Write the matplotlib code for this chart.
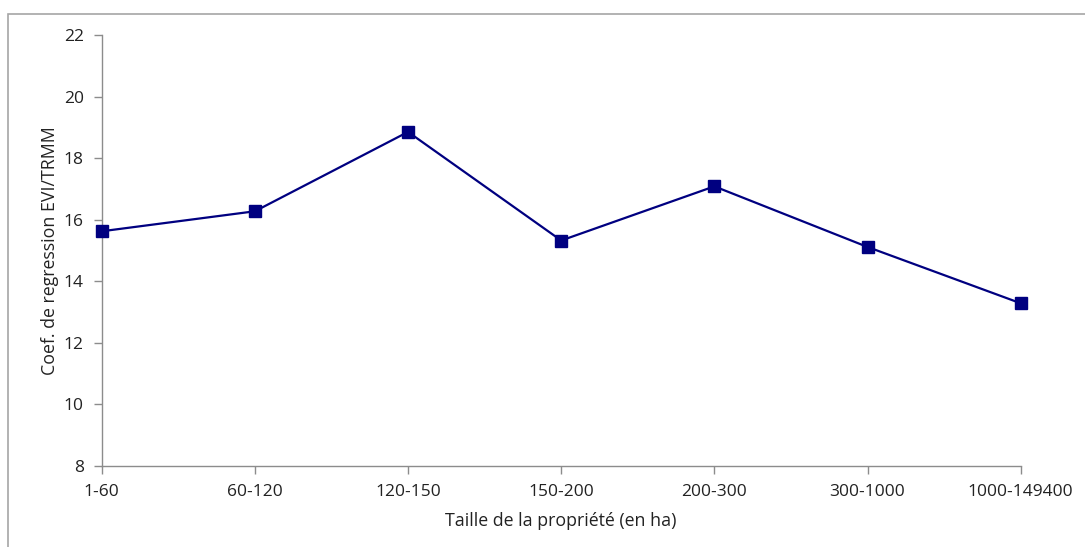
import matplotlib
matplotlib.use("Agg")
import matplotlib.pyplot as plt
from matplotlib.patches import Rectangle

categories = ["1-60", "60-120", "120-150", "150-200", "200-300", "300-1000", "1000-149400"]
values = [15.62, 16.27, 18.85, 15.32, 17.08, 15.11, 13.28]
yticks = [8, 10, 12, 14, 16, 18, 20, 22]

plt.rcParams['font.family'] = ['Open Sans', 'DejaVu Sans']

W, H = 1085, 547
fig = plt.figure(figsize=(W / 100, H / 100), dpi=100)
ax = fig.add_axes([101.7 / W, 1 - 465.7 / H, (1020.7 - 101.7) / W, (465.7 - 35) / H])

x = list(range(len(categories)))
ax.plot(x, values, color='#000080', linewidth=1.6, marker='s', markersize=9,
        markerfacecolor='#000080', markeredgecolor='#000080', clip_on=False, zorder=3)

ax.set_xlim(0, len(categories) - 1)
ax.set_ylim(8, 22)
ax.set_xticks(x)
ax.set_xticklabels(categories)
ax.set_yticks(yticks)

for s in ['top', 'right']:
    ax.spines[s].set_visible(False)
for s in ['left', 'bottom']:
    ax.spines[s].set_color('#8c8c8c')
    ax.spines[s].set_linewidth(1.0)

ax.tick_params(axis='both', colors='#8c8c8c', length=6, width=1.0, labelsize=12.5,
               labelcolor='#222222', direction='out')
ax.tick_params(axis='x', pad=7)
ax.tick_params(axis='y', pad=7)

ax.set_ylabel("Coef. de regression EVI/TRMM", fontsize=12.8, color='#222222', labelpad=3)
ax.set_xlabel("Taille de la propriété (en ha)", fontsize=12.8, color='#222222', labelpad=9)

# outer chart border
fig.patches.append(Rectangle((8 / W, -0.05), 1.1, 1 - 14 / H + 0.05, transform=fig.transFigure,
                             fill=False, edgecolor='#a6a6a6', linewidth=1.2, zorder=0))

fig.savefig("out.png", dpi=100)
